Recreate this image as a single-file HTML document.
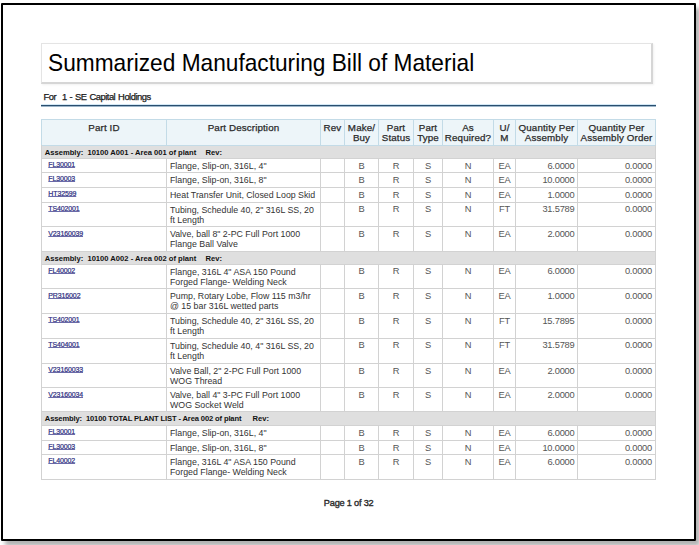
<!DOCTYPE html><html><head><meta charset="utf-8"><style>
html,body{margin:0;padding:0;width:699px;height:545px;overflow:hidden;background:#fff}
body{position:relative;font-family:"Liberation Sans",sans-serif}
.t{position:absolute;white-space:nowrap}
.r{position:absolute}
#frame{position:absolute;left:1px;top:3px;width:695px;height:538px;box-sizing:border-box;border:2px solid #000;border-radius:1px;box-shadow:4px 5px 4px rgba(0,0,0,0.3)}
#tbox{position:absolute;left:41px;top:43px;width:612px;height:41px;box-sizing:border-box;border-top:1px solid #e4e4e4;border-left:1px solid #e4e4e4;border-right:2px solid #d6d6d6;border-bottom:2px solid #d6d6d6;box-shadow:1px 1px 2px rgba(0,0,0,0.06)}
</style></head><body>
<div id="frame"></div>
<div id="tbox"></div>
<div class="t" style="left:47.90px;top:50.51px;font-size:24.8px;line-height:24.8px;color:#000;transform:scaleX(0.915);transform-origin:0 0">Summarized Manufacturing Bill of Material</div>
<div class="t" style="left:43.60px;top:92.24px;font-size:9.4px;line-height:9.4px;color:#1a1a1a;letter-spacing:-0.5px;word-spacing:0.8px;-webkit-text-stroke:0.25px #1a1a1a">For&nbsp; 1 - SE Capital Holdings</div>
<div class="r" style="left:41px;top:104px;width:615px;height:1px;background:#d3e8f6"></div>
<div class="r" style="left:41px;top:105px;width:615px;height:1px;background:#2a4e6e"></div>
<div class="r" style="left:41px;top:106px;width:615px;height:1px;background:#9db6ca"></div>
<div class="r" style="left:41px;top:119px;width:615px;height:26px;background:#edf5f9"></div>
<div class="r" style="left:41px;top:145px;width:615px;height:13px;background:#dfdfdf"></div>
<div class="r" style="left:41px;top:251px;width:615px;height:12.699999999999989px;background:#dfdfdf"></div>
<div class="r" style="left:41px;top:411px;width:615px;height:14.199999999999989px;background:#dfdfdf"></div>
<div class="r" style="left:41px;top:119px;width:615px;height:1px;background:#c3dbe7"></div>
<div class="r" style="left:41px;top:145px;width:615px;height:1px;background:#c3dbe7"></div>
<div class="r" style="left:41px;top:158px;width:615px;height:1px;background:#d2d2d2"></div>
<div class="r" style="left:41px;top:172px;width:615px;height:1px;background:#d2d2d2"></div>
<div class="r" style="left:41px;top:187px;width:615px;height:1px;background:#d2d2d2"></div>
<div class="r" style="left:41px;top:201.6px;width:615px;height:1px;background:#d2d2d2"></div>
<div class="r" style="left:41px;top:226.3px;width:615px;height:1px;background:#d2d2d2"></div>
<div class="r" style="left:41px;top:251px;width:615px;height:1px;background:#d2d2d2"></div>
<div class="r" style="left:41px;top:263.7px;width:615px;height:1px;background:#d2d2d2"></div>
<div class="r" style="left:41px;top:288.3px;width:615px;height:1px;background:#d2d2d2"></div>
<div class="r" style="left:41px;top:313px;width:615px;height:1px;background:#d2d2d2"></div>
<div class="r" style="left:41px;top:337.7px;width:615px;height:1px;background:#d2d2d2"></div>
<div class="r" style="left:41px;top:362.8px;width:615px;height:1px;background:#d2d2d2"></div>
<div class="r" style="left:41px;top:387.4px;width:615px;height:1px;background:#d2d2d2"></div>
<div class="r" style="left:41px;top:411px;width:615px;height:1px;background:#d2d2d2"></div>
<div class="r" style="left:41px;top:425.2px;width:615px;height:1px;background:#d2d2d2"></div>
<div class="r" style="left:41px;top:440px;width:615px;height:1px;background:#d2d2d2"></div>
<div class="r" style="left:41px;top:454.2px;width:615px;height:1px;background:#d2d2d2"></div>
<div class="r" style="left:41px;top:479px;width:615px;height:1px;background:#d2d2d2"></div>
<div class="r" style="left:41px;top:119px;width:1px;height:26px;background:#c3dbe7"></div>
<div class="r" style="left:166px;top:119px;width:1px;height:26px;background:#c3dbe7"></div>
<div class="r" style="left:320px;top:119px;width:1px;height:26px;background:#c3dbe7"></div>
<div class="r" style="left:344px;top:119px;width:1px;height:26px;background:#c3dbe7"></div>
<div class="r" style="left:378px;top:119px;width:1px;height:26px;background:#c3dbe7"></div>
<div class="r" style="left:413px;top:119px;width:1px;height:26px;background:#c3dbe7"></div>
<div class="r" style="left:442px;top:119px;width:1px;height:26px;background:#c3dbe7"></div>
<div class="r" style="left:493px;top:119px;width:1px;height:26px;background:#c3dbe7"></div>
<div class="r" style="left:515px;top:119px;width:1px;height:26px;background:#c3dbe7"></div>
<div class="r" style="left:577px;top:119px;width:1px;height:26px;background:#c3dbe7"></div>
<div class="r" style="left:655px;top:119px;width:1px;height:26px;background:#c3dbe7"></div>
<div class="r" style="left:41px;top:145px;width:1px;height:335.3px;background:#d2d2d2"></div>
<div class="r" style="left:166px;top:158px;width:1px;height:93.4px;background:#d2d2d2"></div>
<div class="r" style="left:166px;top:264px;width:1px;height:148.2px;background:#d2d2d2"></div>
<div class="r" style="left:166px;top:425.6px;width:1px;height:53.69999999999999px;background:#d2d2d2"></div>
<div class="r" style="left:320px;top:158px;width:1px;height:93.4px;background:#d2d2d2"></div>
<div class="r" style="left:320px;top:264px;width:1px;height:148.2px;background:#d2d2d2"></div>
<div class="r" style="left:320px;top:425.6px;width:1px;height:53.69999999999999px;background:#d2d2d2"></div>
<div class="r" style="left:344px;top:158px;width:1px;height:93.4px;background:#d2d2d2"></div>
<div class="r" style="left:344px;top:264px;width:1px;height:148.2px;background:#d2d2d2"></div>
<div class="r" style="left:344px;top:425.6px;width:1px;height:53.69999999999999px;background:#d2d2d2"></div>
<div class="r" style="left:378px;top:158px;width:1px;height:93.4px;background:#d2d2d2"></div>
<div class="r" style="left:378px;top:264px;width:1px;height:148.2px;background:#d2d2d2"></div>
<div class="r" style="left:378px;top:425.6px;width:1px;height:53.69999999999999px;background:#d2d2d2"></div>
<div class="r" style="left:413px;top:158px;width:1px;height:93.4px;background:#d2d2d2"></div>
<div class="r" style="left:413px;top:264px;width:1px;height:148.2px;background:#d2d2d2"></div>
<div class="r" style="left:413px;top:425.6px;width:1px;height:53.69999999999999px;background:#d2d2d2"></div>
<div class="r" style="left:442px;top:158px;width:1px;height:93.4px;background:#d2d2d2"></div>
<div class="r" style="left:442px;top:264px;width:1px;height:148.2px;background:#d2d2d2"></div>
<div class="r" style="left:442px;top:425.6px;width:1px;height:53.69999999999999px;background:#d2d2d2"></div>
<div class="r" style="left:493px;top:158px;width:1px;height:93.4px;background:#d2d2d2"></div>
<div class="r" style="left:493px;top:264px;width:1px;height:148.2px;background:#d2d2d2"></div>
<div class="r" style="left:493px;top:425.6px;width:1px;height:53.69999999999999px;background:#d2d2d2"></div>
<div class="r" style="left:515px;top:158px;width:1px;height:93.4px;background:#d2d2d2"></div>
<div class="r" style="left:515px;top:264px;width:1px;height:148.2px;background:#d2d2d2"></div>
<div class="r" style="left:515px;top:425.6px;width:1px;height:53.69999999999999px;background:#d2d2d2"></div>
<div class="r" style="left:577px;top:158px;width:1px;height:93.4px;background:#d2d2d2"></div>
<div class="r" style="left:577px;top:264px;width:1px;height:148.2px;background:#d2d2d2"></div>
<div class="r" style="left:577px;top:425.6px;width:1px;height:53.69999999999999px;background:#d2d2d2"></div>
<div class="r" style="left:655px;top:145px;width:1px;height:335.3px;background:#d2d2d2"></div>
<div class="t" style="left:4.00px;width:200px;text-align:center;top:122.70px;font-size:9.8px;line-height:9.8px;color:#2a2a2a;letter-spacing:0.12px;-webkit-text-stroke:0.25px #2a2a2a">Part ID</div>
<div class="t" style="left:143.50px;width:200px;text-align:center;top:122.70px;font-size:9.8px;line-height:9.8px;color:#2a2a2a;letter-spacing:0.12px;-webkit-text-stroke:0.25px #2a2a2a">Part Description</div>
<div class="t" style="left:232.50px;width:200px;text-align:center;top:122.70px;font-size:9.8px;line-height:9.8px;color:#2a2a2a;letter-spacing:0.12px;-webkit-text-stroke:0.25px #2a2a2a">Rev</div>
<div class="t" style="left:261.50px;width:200px;text-align:center;top:122.70px;font-size:9.8px;line-height:9.8px;color:#2a2a2a;letter-spacing:0.12px;-webkit-text-stroke:0.25px #2a2a2a">Make/</div>
<div class="t" style="left:261.50px;width:200px;text-align:center;top:133.10px;font-size:9.8px;line-height:9.8px;color:#2a2a2a;letter-spacing:0.12px;-webkit-text-stroke:0.25px #2a2a2a">Buy</div>
<div class="t" style="left:296.00px;width:200px;text-align:center;top:122.70px;font-size:9.8px;line-height:9.8px;color:#2a2a2a;letter-spacing:0.12px;-webkit-text-stroke:0.25px #2a2a2a">Part</div>
<div class="t" style="left:296.00px;width:200px;text-align:center;top:133.10px;font-size:9.8px;line-height:9.8px;color:#2a2a2a;letter-spacing:0.12px;-webkit-text-stroke:0.25px #2a2a2a">Status</div>
<div class="t" style="left:328.00px;width:200px;text-align:center;top:122.70px;font-size:9.8px;line-height:9.8px;color:#2a2a2a;letter-spacing:0.12px;-webkit-text-stroke:0.25px #2a2a2a">Part</div>
<div class="t" style="left:328.00px;width:200px;text-align:center;top:133.10px;font-size:9.8px;line-height:9.8px;color:#2a2a2a;letter-spacing:0.12px;-webkit-text-stroke:0.25px #2a2a2a">Type</div>
<div class="t" style="left:368.00px;width:200px;text-align:center;top:122.70px;font-size:9.8px;line-height:9.8px;color:#2a2a2a;letter-spacing:0.12px;-webkit-text-stroke:0.25px #2a2a2a">As</div>
<div class="t" style="left:368.00px;width:200px;text-align:center;top:133.10px;font-size:9.8px;line-height:9.8px;color:#2a2a2a;letter-spacing:0.12px;-webkit-text-stroke:0.25px #2a2a2a">Required?</div>
<div class="t" style="left:404.50px;width:200px;text-align:center;top:122.70px;font-size:9.8px;line-height:9.8px;color:#2a2a2a;letter-spacing:0.12px;-webkit-text-stroke:0.25px #2a2a2a">U/</div>
<div class="t" style="left:404.50px;width:200px;text-align:center;top:133.10px;font-size:9.8px;line-height:9.8px;color:#2a2a2a;letter-spacing:0.12px;-webkit-text-stroke:0.25px #2a2a2a">M</div>
<div class="t" style="left:446.50px;width:200px;text-align:center;top:122.70px;font-size:9.8px;line-height:9.8px;color:#2a2a2a;letter-spacing:0.12px;-webkit-text-stroke:0.25px #2a2a2a">Quantity Per</div>
<div class="t" style="left:446.50px;width:200px;text-align:center;top:133.10px;font-size:9.8px;line-height:9.8px;color:#2a2a2a;letter-spacing:0.12px;-webkit-text-stroke:0.25px #2a2a2a">Assembly</div>
<div class="t" style="left:516.50px;width:200px;text-align:center;top:122.70px;font-size:9.8px;line-height:9.8px;color:#2a2a2a;letter-spacing:0.12px;-webkit-text-stroke:0.25px #2a2a2a">Quantity Per</div>
<div class="t" style="left:516.50px;width:200px;text-align:center;top:133.10px;font-size:9.8px;line-height:9.8px;color:#2a2a2a;letter-spacing:0.12px;-webkit-text-stroke:0.25px #2a2a2a">Assembly Order</div>
<div class="t" style="left:44.80px;top:149.37px;font-size:7.6px;line-height:7.6px;font-weight:bold;color:#111;letter-spacing:0px">Assembly:&nbsp; 10100 A001 - Area 001 of plant</div>
<div class="t" style="left:205.50px;top:149.37px;font-size:7.6px;line-height:7.6px;font-weight:bold;color:#111">Rev:</div>
<div class="t" style="left:48.30px;top:161.27px;font-size:7px;line-height:7px;color:#2e2e80;letter-spacing:-0.12px;-webkit-text-stroke:0.2px #2e2e80;text-decoration:underline;text-decoration-color:#6a6aa8;text-decoration-thickness:0.8px;text-underline-offset:0px;text-decoration-skip-ink:none">FL30001</div>
<div class="t" style="left:170.00px;top:161.95px;font-size:8.8px;line-height:8.8px;color:#333">Flange, Slip-on, 316L, 4&quot;</div>
<div class="t" style="left:261.50px;width:200px;text-align:center;top:161.73px;font-size:9.3px;line-height:9.3px;color:#555;letter-spacing:-0.1px">B</div>
<div class="t" style="left:296.00px;width:200px;text-align:center;top:161.73px;font-size:9.3px;line-height:9.3px;color:#555;letter-spacing:-0.1px">R</div>
<div class="t" style="left:328.00px;width:200px;text-align:center;top:161.73px;font-size:9.3px;line-height:9.3px;color:#555;letter-spacing:-0.1px">S</div>
<div class="t" style="left:368.00px;width:200px;text-align:center;top:161.73px;font-size:9.3px;line-height:9.3px;color:#555;letter-spacing:-0.1px">N</div>
<div class="t" style="left:404.50px;width:200px;text-align:center;top:161.73px;font-size:9.3px;line-height:9.3px;color:#555;letter-spacing:-0.1px">EA</div>
<div class="t" style="right:124.50px;top:161.73px;font-size:9.3px;line-height:9.3px;color:#555;letter-spacing:-0.22px">6.0000</div>
<div class="t" style="right:47.00px;top:161.73px;font-size:9.3px;line-height:9.3px;color:#555;letter-spacing:-0.22px">0.0000</div>
<div class="t" style="left:48.30px;top:175.27px;font-size:7px;line-height:7px;color:#2e2e80;letter-spacing:-0.12px;-webkit-text-stroke:0.2px #2e2e80;text-decoration:underline;text-decoration-color:#6a6aa8;text-decoration-thickness:0.8px;text-underline-offset:0px;text-decoration-skip-ink:none">FL30003</div>
<div class="t" style="left:170.00px;top:175.95px;font-size:8.8px;line-height:8.8px;color:#333">Flange, Slip-on, 316L, 8&quot;</div>
<div class="t" style="left:261.50px;width:200px;text-align:center;top:175.73px;font-size:9.3px;line-height:9.3px;color:#555;letter-spacing:-0.1px">B</div>
<div class="t" style="left:296.00px;width:200px;text-align:center;top:175.73px;font-size:9.3px;line-height:9.3px;color:#555;letter-spacing:-0.1px">R</div>
<div class="t" style="left:328.00px;width:200px;text-align:center;top:175.73px;font-size:9.3px;line-height:9.3px;color:#555;letter-spacing:-0.1px">S</div>
<div class="t" style="left:368.00px;width:200px;text-align:center;top:175.73px;font-size:9.3px;line-height:9.3px;color:#555;letter-spacing:-0.1px">N</div>
<div class="t" style="left:404.50px;width:200px;text-align:center;top:175.73px;font-size:9.3px;line-height:9.3px;color:#555;letter-spacing:-0.1px">EA</div>
<div class="t" style="right:124.50px;top:175.73px;font-size:9.3px;line-height:9.3px;color:#555;letter-spacing:-0.22px">10.0000</div>
<div class="t" style="right:47.00px;top:175.73px;font-size:9.3px;line-height:9.3px;color:#555;letter-spacing:-0.22px">0.0000</div>
<div class="t" style="left:48.30px;top:190.27px;font-size:7px;line-height:7px;color:#2e2e80;letter-spacing:-0.12px;-webkit-text-stroke:0.2px #2e2e80;text-decoration:underline;text-decoration-color:#6a6aa8;text-decoration-thickness:0.8px;text-underline-offset:0px;text-decoration-skip-ink:none">HT32599</div>
<div class="t" style="left:170.00px;top:190.95px;font-size:8.8px;line-height:8.8px;color:#333">Heat Transfer Unit, Closed Loop Skid</div>
<div class="t" style="left:261.50px;width:200px;text-align:center;top:190.73px;font-size:9.3px;line-height:9.3px;color:#555;letter-spacing:-0.1px">B</div>
<div class="t" style="left:296.00px;width:200px;text-align:center;top:190.73px;font-size:9.3px;line-height:9.3px;color:#555;letter-spacing:-0.1px">R</div>
<div class="t" style="left:328.00px;width:200px;text-align:center;top:190.73px;font-size:9.3px;line-height:9.3px;color:#555;letter-spacing:-0.1px">S</div>
<div class="t" style="left:368.00px;width:200px;text-align:center;top:190.73px;font-size:9.3px;line-height:9.3px;color:#555;letter-spacing:-0.1px">N</div>
<div class="t" style="left:404.50px;width:200px;text-align:center;top:190.73px;font-size:9.3px;line-height:9.3px;color:#555;letter-spacing:-0.1px">EA</div>
<div class="t" style="right:124.50px;top:190.73px;font-size:9.3px;line-height:9.3px;color:#555;letter-spacing:-0.22px">1.0000</div>
<div class="t" style="right:47.00px;top:190.73px;font-size:9.3px;line-height:9.3px;color:#555;letter-spacing:-0.22px">0.0000</div>
<div class="t" style="left:48.30px;top:204.87px;font-size:7px;line-height:7px;color:#2e2e80;letter-spacing:-0.12px;-webkit-text-stroke:0.2px #2e2e80;text-decoration:underline;text-decoration-color:#6a6aa8;text-decoration-thickness:0.8px;text-underline-offset:0px;text-decoration-skip-ink:none">TS402001</div>
<div class="t" style="left:170.00px;top:205.55px;font-size:8.8px;line-height:8.8px;color:#333">Tubing, Schedule 40, 2&quot; 316L SS, 20</div>
<div class="t" style="left:170.00px;top:215.65px;font-size:8.8px;line-height:8.8px;color:#333">ft Length</div>
<div class="t" style="left:261.50px;width:200px;text-align:center;top:205.33px;font-size:9.3px;line-height:9.3px;color:#555;letter-spacing:-0.1px">B</div>
<div class="t" style="left:296.00px;width:200px;text-align:center;top:205.33px;font-size:9.3px;line-height:9.3px;color:#555;letter-spacing:-0.1px">R</div>
<div class="t" style="left:328.00px;width:200px;text-align:center;top:205.33px;font-size:9.3px;line-height:9.3px;color:#555;letter-spacing:-0.1px">S</div>
<div class="t" style="left:368.00px;width:200px;text-align:center;top:205.33px;font-size:9.3px;line-height:9.3px;color:#555;letter-spacing:-0.1px">N</div>
<div class="t" style="left:404.50px;width:200px;text-align:center;top:205.33px;font-size:9.3px;line-height:9.3px;color:#555;letter-spacing:-0.1px">FT</div>
<div class="t" style="right:124.50px;top:205.33px;font-size:9.3px;line-height:9.3px;color:#555;letter-spacing:-0.22px">31.5789</div>
<div class="t" style="right:47.00px;top:205.33px;font-size:9.3px;line-height:9.3px;color:#555;letter-spacing:-0.22px">0.0000</div>
<div class="t" style="left:48.30px;top:229.57px;font-size:7px;line-height:7px;color:#2e2e80;letter-spacing:-0.12px;-webkit-text-stroke:0.2px #2e2e80;text-decoration:underline;text-decoration-color:#6a6aa8;text-decoration-thickness:0.8px;text-underline-offset:0px;text-decoration-skip-ink:none">V23160039</div>
<div class="t" style="left:170.00px;top:230.25px;font-size:8.8px;line-height:8.8px;color:#333">Valve, ball 8&quot; 2-PC Full Port 1000</div>
<div class="t" style="left:170.00px;top:240.35px;font-size:8.8px;line-height:8.8px;color:#333">Flange Ball Valve</div>
<div class="t" style="left:261.50px;width:200px;text-align:center;top:230.03px;font-size:9.3px;line-height:9.3px;color:#555;letter-spacing:-0.1px">B</div>
<div class="t" style="left:296.00px;width:200px;text-align:center;top:230.03px;font-size:9.3px;line-height:9.3px;color:#555;letter-spacing:-0.1px">R</div>
<div class="t" style="left:328.00px;width:200px;text-align:center;top:230.03px;font-size:9.3px;line-height:9.3px;color:#555;letter-spacing:-0.1px">S</div>
<div class="t" style="left:368.00px;width:200px;text-align:center;top:230.03px;font-size:9.3px;line-height:9.3px;color:#555;letter-spacing:-0.1px">N</div>
<div class="t" style="left:404.50px;width:200px;text-align:center;top:230.03px;font-size:9.3px;line-height:9.3px;color:#555;letter-spacing:-0.1px">EA</div>
<div class="t" style="right:124.50px;top:230.03px;font-size:9.3px;line-height:9.3px;color:#555;letter-spacing:-0.22px">2.0000</div>
<div class="t" style="right:47.00px;top:230.03px;font-size:9.3px;line-height:9.3px;color:#555;letter-spacing:-0.22px">0.0000</div>
<div class="t" style="left:44.80px;top:255.37px;font-size:7.6px;line-height:7.6px;font-weight:bold;color:#111;letter-spacing:0px">Assembly:&nbsp; 10100 A002 - Area 002 of plant</div>
<div class="t" style="left:205.50px;top:255.37px;font-size:7.6px;line-height:7.6px;font-weight:bold;color:#111">Rev:</div>
<div class="t" style="left:48.30px;top:266.97px;font-size:7px;line-height:7px;color:#2e2e80;letter-spacing:-0.12px;-webkit-text-stroke:0.2px #2e2e80;text-decoration:underline;text-decoration-color:#6a6aa8;text-decoration-thickness:0.8px;text-underline-offset:0px;text-decoration-skip-ink:none">FL40002</div>
<div class="t" style="left:170.00px;top:267.65px;font-size:8.8px;line-height:8.8px;color:#333">Flange, 316L 4&quot; ASA 150 Pound</div>
<div class="t" style="left:170.00px;top:277.75px;font-size:8.8px;line-height:8.8px;color:#333">Forged Flange- Welding Neck</div>
<div class="t" style="left:261.50px;width:200px;text-align:center;top:267.43px;font-size:9.3px;line-height:9.3px;color:#555;letter-spacing:-0.1px">B</div>
<div class="t" style="left:296.00px;width:200px;text-align:center;top:267.43px;font-size:9.3px;line-height:9.3px;color:#555;letter-spacing:-0.1px">R</div>
<div class="t" style="left:328.00px;width:200px;text-align:center;top:267.43px;font-size:9.3px;line-height:9.3px;color:#555;letter-spacing:-0.1px">S</div>
<div class="t" style="left:368.00px;width:200px;text-align:center;top:267.43px;font-size:9.3px;line-height:9.3px;color:#555;letter-spacing:-0.1px">N</div>
<div class="t" style="left:404.50px;width:200px;text-align:center;top:267.43px;font-size:9.3px;line-height:9.3px;color:#555;letter-spacing:-0.1px">EA</div>
<div class="t" style="right:124.50px;top:267.43px;font-size:9.3px;line-height:9.3px;color:#555;letter-spacing:-0.22px">6.0000</div>
<div class="t" style="right:47.00px;top:267.43px;font-size:9.3px;line-height:9.3px;color:#555;letter-spacing:-0.22px">0.0000</div>
<div class="t" style="left:48.30px;top:291.57px;font-size:7px;line-height:7px;color:#2e2e80;letter-spacing:-0.12px;-webkit-text-stroke:0.2px #2e2e80;text-decoration:underline;text-decoration-color:#6a6aa8;text-decoration-thickness:0.8px;text-underline-offset:0px;text-decoration-skip-ink:none">PR316002</div>
<div class="t" style="left:170.00px;top:292.25px;font-size:8.8px;line-height:8.8px;color:#333">Pump, Rotary Lobe, Flow 115 m3/hr</div>
<div class="t" style="left:170.00px;top:302.35px;font-size:8.8px;line-height:8.8px;color:#333">@ 15 bar 316L wetted parts</div>
<div class="t" style="left:261.50px;width:200px;text-align:center;top:292.03px;font-size:9.3px;line-height:9.3px;color:#555;letter-spacing:-0.1px">B</div>
<div class="t" style="left:296.00px;width:200px;text-align:center;top:292.03px;font-size:9.3px;line-height:9.3px;color:#555;letter-spacing:-0.1px">R</div>
<div class="t" style="left:328.00px;width:200px;text-align:center;top:292.03px;font-size:9.3px;line-height:9.3px;color:#555;letter-spacing:-0.1px">S</div>
<div class="t" style="left:368.00px;width:200px;text-align:center;top:292.03px;font-size:9.3px;line-height:9.3px;color:#555;letter-spacing:-0.1px">N</div>
<div class="t" style="left:404.50px;width:200px;text-align:center;top:292.03px;font-size:9.3px;line-height:9.3px;color:#555;letter-spacing:-0.1px">EA</div>
<div class="t" style="right:124.50px;top:292.03px;font-size:9.3px;line-height:9.3px;color:#555;letter-spacing:-0.22px">1.0000</div>
<div class="t" style="right:47.00px;top:292.03px;font-size:9.3px;line-height:9.3px;color:#555;letter-spacing:-0.22px">0.0000</div>
<div class="t" style="left:48.30px;top:316.27px;font-size:7px;line-height:7px;color:#2e2e80;letter-spacing:-0.12px;-webkit-text-stroke:0.2px #2e2e80;text-decoration:underline;text-decoration-color:#6a6aa8;text-decoration-thickness:0.8px;text-underline-offset:0px;text-decoration-skip-ink:none">TS402001</div>
<div class="t" style="left:170.00px;top:316.95px;font-size:8.8px;line-height:8.8px;color:#333">Tubing, Schedule 40, 2&quot; 316L SS, 20</div>
<div class="t" style="left:170.00px;top:327.05px;font-size:8.8px;line-height:8.8px;color:#333">ft Length</div>
<div class="t" style="left:261.50px;width:200px;text-align:center;top:316.73px;font-size:9.3px;line-height:9.3px;color:#555;letter-spacing:-0.1px">B</div>
<div class="t" style="left:296.00px;width:200px;text-align:center;top:316.73px;font-size:9.3px;line-height:9.3px;color:#555;letter-spacing:-0.1px">R</div>
<div class="t" style="left:328.00px;width:200px;text-align:center;top:316.73px;font-size:9.3px;line-height:9.3px;color:#555;letter-spacing:-0.1px">S</div>
<div class="t" style="left:368.00px;width:200px;text-align:center;top:316.73px;font-size:9.3px;line-height:9.3px;color:#555;letter-spacing:-0.1px">N</div>
<div class="t" style="left:404.50px;width:200px;text-align:center;top:316.73px;font-size:9.3px;line-height:9.3px;color:#555;letter-spacing:-0.1px">FT</div>
<div class="t" style="right:124.50px;top:316.73px;font-size:9.3px;line-height:9.3px;color:#555;letter-spacing:-0.22px">15.7895</div>
<div class="t" style="right:47.00px;top:316.73px;font-size:9.3px;line-height:9.3px;color:#555;letter-spacing:-0.22px">0.0000</div>
<div class="t" style="left:48.30px;top:340.97px;font-size:7px;line-height:7px;color:#2e2e80;letter-spacing:-0.12px;-webkit-text-stroke:0.2px #2e2e80;text-decoration:underline;text-decoration-color:#6a6aa8;text-decoration-thickness:0.8px;text-underline-offset:0px;text-decoration-skip-ink:none">TS404001</div>
<div class="t" style="left:170.00px;top:341.65px;font-size:8.8px;line-height:8.8px;color:#333">Tubing, Schedule 40, 4&quot; 316L SS, 20</div>
<div class="t" style="left:170.00px;top:351.75px;font-size:8.8px;line-height:8.8px;color:#333">ft Length</div>
<div class="t" style="left:261.50px;width:200px;text-align:center;top:341.43px;font-size:9.3px;line-height:9.3px;color:#555;letter-spacing:-0.1px">B</div>
<div class="t" style="left:296.00px;width:200px;text-align:center;top:341.43px;font-size:9.3px;line-height:9.3px;color:#555;letter-spacing:-0.1px">R</div>
<div class="t" style="left:328.00px;width:200px;text-align:center;top:341.43px;font-size:9.3px;line-height:9.3px;color:#555;letter-spacing:-0.1px">S</div>
<div class="t" style="left:368.00px;width:200px;text-align:center;top:341.43px;font-size:9.3px;line-height:9.3px;color:#555;letter-spacing:-0.1px">N</div>
<div class="t" style="left:404.50px;width:200px;text-align:center;top:341.43px;font-size:9.3px;line-height:9.3px;color:#555;letter-spacing:-0.1px">FT</div>
<div class="t" style="right:124.50px;top:341.43px;font-size:9.3px;line-height:9.3px;color:#555;letter-spacing:-0.22px">31.5789</div>
<div class="t" style="right:47.00px;top:341.43px;font-size:9.3px;line-height:9.3px;color:#555;letter-spacing:-0.22px">0.0000</div>
<div class="t" style="left:48.30px;top:366.07px;font-size:7px;line-height:7px;color:#2e2e80;letter-spacing:-0.12px;-webkit-text-stroke:0.2px #2e2e80;text-decoration:underline;text-decoration-color:#6a6aa8;text-decoration-thickness:0.8px;text-underline-offset:0px;text-decoration-skip-ink:none">V23160033</div>
<div class="t" style="left:170.00px;top:366.75px;font-size:8.8px;line-height:8.8px;color:#333">Valve Ball, 2&quot; 2-PC Full Port 1000</div>
<div class="t" style="left:170.00px;top:376.85px;font-size:8.8px;line-height:8.8px;color:#333">WOG Thread</div>
<div class="t" style="left:261.50px;width:200px;text-align:center;top:366.53px;font-size:9.3px;line-height:9.3px;color:#555;letter-spacing:-0.1px">B</div>
<div class="t" style="left:296.00px;width:200px;text-align:center;top:366.53px;font-size:9.3px;line-height:9.3px;color:#555;letter-spacing:-0.1px">R</div>
<div class="t" style="left:328.00px;width:200px;text-align:center;top:366.53px;font-size:9.3px;line-height:9.3px;color:#555;letter-spacing:-0.1px">S</div>
<div class="t" style="left:368.00px;width:200px;text-align:center;top:366.53px;font-size:9.3px;line-height:9.3px;color:#555;letter-spacing:-0.1px">N</div>
<div class="t" style="left:404.50px;width:200px;text-align:center;top:366.53px;font-size:9.3px;line-height:9.3px;color:#555;letter-spacing:-0.1px">EA</div>
<div class="t" style="right:124.50px;top:366.53px;font-size:9.3px;line-height:9.3px;color:#555;letter-spacing:-0.22px">2.0000</div>
<div class="t" style="right:47.00px;top:366.53px;font-size:9.3px;line-height:9.3px;color:#555;letter-spacing:-0.22px">0.0000</div>
<div class="t" style="left:48.30px;top:390.67px;font-size:7px;line-height:7px;color:#2e2e80;letter-spacing:-0.12px;-webkit-text-stroke:0.2px #2e2e80;text-decoration:underline;text-decoration-color:#6a6aa8;text-decoration-thickness:0.8px;text-underline-offset:0px;text-decoration-skip-ink:none">V23160034</div>
<div class="t" style="left:170.00px;top:391.35px;font-size:8.8px;line-height:8.8px;color:#333">Valve, ball 4&quot; 3-PC Full Port 1000</div>
<div class="t" style="left:170.00px;top:401.45px;font-size:8.8px;line-height:8.8px;color:#333">WOG Socket Weld</div>
<div class="t" style="left:261.50px;width:200px;text-align:center;top:391.13px;font-size:9.3px;line-height:9.3px;color:#555;letter-spacing:-0.1px">B</div>
<div class="t" style="left:296.00px;width:200px;text-align:center;top:391.13px;font-size:9.3px;line-height:9.3px;color:#555;letter-spacing:-0.1px">R</div>
<div class="t" style="left:328.00px;width:200px;text-align:center;top:391.13px;font-size:9.3px;line-height:9.3px;color:#555;letter-spacing:-0.1px">S</div>
<div class="t" style="left:368.00px;width:200px;text-align:center;top:391.13px;font-size:9.3px;line-height:9.3px;color:#555;letter-spacing:-0.1px">N</div>
<div class="t" style="left:404.50px;width:200px;text-align:center;top:391.13px;font-size:9.3px;line-height:9.3px;color:#555;letter-spacing:-0.1px">EA</div>
<div class="t" style="right:124.50px;top:391.13px;font-size:9.3px;line-height:9.3px;color:#555;letter-spacing:-0.22px">2.0000</div>
<div class="t" style="right:47.00px;top:391.13px;font-size:9.3px;line-height:9.3px;color:#555;letter-spacing:-0.22px">0.0000</div>
<div class="t" style="left:44.80px;top:415.37px;font-size:7.6px;line-height:7.6px;font-weight:bold;color:#111;letter-spacing:-0.14px">Assembly:&nbsp; 10100 TOTAL PLANT LIST - Area 002 of plant</div>
<div class="t" style="left:252.50px;top:415.37px;font-size:7.6px;line-height:7.6px;font-weight:bold;color:#111">Rev:</div>
<div class="t" style="left:48.30px;top:428.47px;font-size:7px;line-height:7px;color:#2e2e80;letter-spacing:-0.12px;-webkit-text-stroke:0.2px #2e2e80;text-decoration:underline;text-decoration-color:#6a6aa8;text-decoration-thickness:0.8px;text-underline-offset:0px;text-decoration-skip-ink:none">FL30001</div>
<div class="t" style="left:170.00px;top:429.15px;font-size:8.8px;line-height:8.8px;color:#333">Flange, Slip-on, 316L, 4&quot;</div>
<div class="t" style="left:261.50px;width:200px;text-align:center;top:428.93px;font-size:9.3px;line-height:9.3px;color:#555;letter-spacing:-0.1px">B</div>
<div class="t" style="left:296.00px;width:200px;text-align:center;top:428.93px;font-size:9.3px;line-height:9.3px;color:#555;letter-spacing:-0.1px">R</div>
<div class="t" style="left:328.00px;width:200px;text-align:center;top:428.93px;font-size:9.3px;line-height:9.3px;color:#555;letter-spacing:-0.1px">S</div>
<div class="t" style="left:368.00px;width:200px;text-align:center;top:428.93px;font-size:9.3px;line-height:9.3px;color:#555;letter-spacing:-0.1px">N</div>
<div class="t" style="left:404.50px;width:200px;text-align:center;top:428.93px;font-size:9.3px;line-height:9.3px;color:#555;letter-spacing:-0.1px">EA</div>
<div class="t" style="right:124.50px;top:428.93px;font-size:9.3px;line-height:9.3px;color:#555;letter-spacing:-0.22px">6.0000</div>
<div class="t" style="right:47.00px;top:428.93px;font-size:9.3px;line-height:9.3px;color:#555;letter-spacing:-0.22px">0.0000</div>
<div class="t" style="left:48.30px;top:443.27px;font-size:7px;line-height:7px;color:#2e2e80;letter-spacing:-0.12px;-webkit-text-stroke:0.2px #2e2e80;text-decoration:underline;text-decoration-color:#6a6aa8;text-decoration-thickness:0.8px;text-underline-offset:0px;text-decoration-skip-ink:none">FL30003</div>
<div class="t" style="left:170.00px;top:443.95px;font-size:8.8px;line-height:8.8px;color:#333">Flange, Slip-on, 316L, 8&quot;</div>
<div class="t" style="left:261.50px;width:200px;text-align:center;top:443.73px;font-size:9.3px;line-height:9.3px;color:#555;letter-spacing:-0.1px">B</div>
<div class="t" style="left:296.00px;width:200px;text-align:center;top:443.73px;font-size:9.3px;line-height:9.3px;color:#555;letter-spacing:-0.1px">R</div>
<div class="t" style="left:328.00px;width:200px;text-align:center;top:443.73px;font-size:9.3px;line-height:9.3px;color:#555;letter-spacing:-0.1px">S</div>
<div class="t" style="left:368.00px;width:200px;text-align:center;top:443.73px;font-size:9.3px;line-height:9.3px;color:#555;letter-spacing:-0.1px">N</div>
<div class="t" style="left:404.50px;width:200px;text-align:center;top:443.73px;font-size:9.3px;line-height:9.3px;color:#555;letter-spacing:-0.1px">EA</div>
<div class="t" style="right:124.50px;top:443.73px;font-size:9.3px;line-height:9.3px;color:#555;letter-spacing:-0.22px">10.0000</div>
<div class="t" style="right:47.00px;top:443.73px;font-size:9.3px;line-height:9.3px;color:#555;letter-spacing:-0.22px">0.0000</div>
<div class="t" style="left:48.30px;top:457.47px;font-size:7px;line-height:7px;color:#2e2e80;letter-spacing:-0.12px;-webkit-text-stroke:0.2px #2e2e80;text-decoration:underline;text-decoration-color:#6a6aa8;text-decoration-thickness:0.8px;text-underline-offset:0px;text-decoration-skip-ink:none">FL40002</div>
<div class="t" style="left:170.00px;top:458.15px;font-size:8.8px;line-height:8.8px;color:#333">Flange, 316L 4&quot; ASA 150 Pound</div>
<div class="t" style="left:170.00px;top:468.25px;font-size:8.8px;line-height:8.8px;color:#333">Forged Flange- Welding Neck</div>
<div class="t" style="left:261.50px;width:200px;text-align:center;top:457.93px;font-size:9.3px;line-height:9.3px;color:#555;letter-spacing:-0.1px">B</div>
<div class="t" style="left:296.00px;width:200px;text-align:center;top:457.93px;font-size:9.3px;line-height:9.3px;color:#555;letter-spacing:-0.1px">R</div>
<div class="t" style="left:328.00px;width:200px;text-align:center;top:457.93px;font-size:9.3px;line-height:9.3px;color:#555;letter-spacing:-0.1px">S</div>
<div class="t" style="left:368.00px;width:200px;text-align:center;top:457.93px;font-size:9.3px;line-height:9.3px;color:#555;letter-spacing:-0.1px">N</div>
<div class="t" style="left:404.50px;width:200px;text-align:center;top:457.93px;font-size:9.3px;line-height:9.3px;color:#555;letter-spacing:-0.1px">EA</div>
<div class="t" style="right:124.50px;top:457.93px;font-size:9.3px;line-height:9.3px;color:#555;letter-spacing:-0.22px">6.0000</div>
<div class="t" style="right:47.00px;top:457.93px;font-size:9.3px;line-height:9.3px;color:#555;letter-spacing:-0.22px">0.0000</div>
<div class="t" style="left:323.80px;top:498.81px;font-size:9.2px;line-height:9.2px;color:#2a2a2a;letter-spacing:-0.2px;-webkit-text-stroke:0.35px #2a2a2a">Page 1 of 32</div>
</body></html>
